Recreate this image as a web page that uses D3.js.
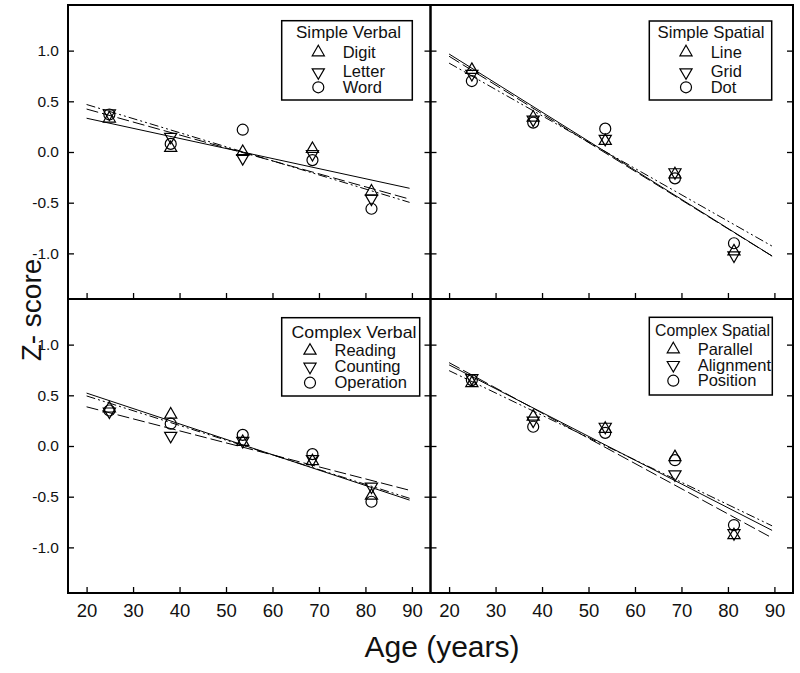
<!DOCTYPE html>
<html><head><meta charset="utf-8">
<script src="https://cdn.jsdelivr.net/npm/d3@7"></script>
<style>body{margin:0;background:#fff}</style>
</head><body>
<svg id="chart" width="800" height="673" xmlns="http://www.w3.org/2000/svg"></svg>
<script>
// ---------- data ----------
const ages = [24.9, 38.1, 53.6, 68.6, 81.3];
const xTicks = [20, 30, 40, 50, 60, 70, 80, 90];
const yTicks = [1.0, 0.5, 0.0, -0.5, -1.0];
const panelTitles = ["Simple Verbal", "Simple Spatial", "Complex Verbal", "Complex Spatial"];
const seriesNames = [
  ["Digit", "Letter", "Word"],
  ["Line", "Grid", "Dot"],
  ["Reading", "Counting", "Operation"],
  ["Parallel", "Alignment", "Position"]
];
const simpleVerbal = [
  [0.33, 0.04, 0.00, 0.03, -0.39],
  [0.38, 0.15, -0.06, -0.02, -0.46],
  [0.37, 0.08, 0.22, -0.08, -0.56]
];
const simpleSpatial = [
  [0.81, 0.34, 0.11, -0.22, -0.98],
  [0.77, 0.32, 0.13, -0.20, -1.02],
  [0.70, 0.29, 0.23, -0.26, -0.90]
];
const complexVerbal = [
  [0.37, 0.31, 0.04, -0.15, -0.49],
  [0.34, 0.10, 0.05, -0.13, -0.40],
  [0.35, 0.22, 0.11, -0.08, -0.55]
];
const complexSpatial = [
  [0.62, 0.29, 0.17, -0.11, -0.88],
  [0.67, 0.25, 0.19, -0.28, -0.86],
  [0.65, 0.19, 0.13, -0.14, -0.78]
];
const fitRange = [20, 89.5];

// ---------- layout ----------
const L = 68, R = 793, T = 5, B = 593;
const pw = (R - L) / 2, ph = (B - T) / 2;
const xDomain = [16, 94], yDomain = [-1.45, 1.45];
const FONT = "Liberation Sans, Arial, Helvetica, sans-serif";
const LEGFS = 16.5;

const panels = [
  { title: panelTitles[0], names: seriesNames[0], data: simpleVerbal, col: 0, row: 0,
    leg: { x: 213.7, y: 15.7, w: 130.6, h: 79.3, tx: 228, tw: 105, ty: 33.3, sx: 250.3, lx: 274.7,
           sy: [47.3, 67.3, 82.3], ly: [52.5, 71.9, 87.5] } },
  { title: panelTitles[1], names: seriesNames[1], data: simpleSpatial, col: 1, row: 0,
    leg: { x: 218.8, y: 16, w: 122.4, h: 79, tx: 227, tw: 107, ty: 33.3, sx: 255.5, lx: 280.2,
           sy: [47.3, 67.3, 82.3], ly: [52.5, 71.9, 87.5] } },
  { title: panelTitles[2], names: seriesNames[2], data: complexVerbal, col: 0, row: 1,
    leg: { x: 213.7, y: 18.7, w: 138, h: 78.3, tx: 223.5, tw: 125, ty: 39.3, sx: 242, lx: 266.5,
           sy: [51.7, 67.7, 83.7], ly: [57, 73, 88.6] } },
  { title: panelTitles[3], names: seriesNames[3], data: complexSpatial, col: 1, row: 1,
    leg: { x: 218.8, y: 18.3, w: 123, h: 77.7, tx: 224.5, tw: 115, ty: 37, sx: 242.8, lx: 267.2,
           sy: [50.3, 66, 81.7], ly: [56.3, 71.6, 87.3] } }
];

const symbolTypes = [
  d3.symbol().type(d3.symbolTriangle).size(64)(),
  d3.symbol().type(d3.symbolTriangle).size(64)(),
  d3.symbol().type(d3.symbolCircle).size(95)()
];
const symbolRot = [0, 180, 0];
const dashes = [null, "12,4", "9,3,2,3,2,3"];

function fit(xs, ys) {
  const mx = d3.mean(xs), my = d3.mean(ys);
  let sxy = 0, sxx = 0;
  xs.forEach((xv, i) => { sxy += (xv - mx) * (ys[i] - my); sxx += (xv - mx) ** 2; });
  const b = sxy / sxx;
  return { a: my - b * mx, b };
}

const svg = d3.select("#chart");
svg.append("rect").attr("width", 800).attr("height", 673).attr("fill", "#fff");

const fmt = d => d.toFixed(1);

panels.forEach(p => {
  const x0 = L + p.col * pw, y0 = T + p.row * ph;
  const g = svg.append("g").attr("transform", `translate(${x0},${y0})`);
  const x = d3.scaleLinear().domain(xDomain).range([0, pw]);
  const y = d3.scaleLinear().domain(yDomain).range([ph, 0]);

  const ax = g.append("g").call(
    d3.axisLeft(y).tickValues(yTicks).tickSize(-6).tickPadding(9)
      .tickFormat(p.col === 0 ? fmt : () => ""));
  const ar = g.append("g").attr("transform", `translate(${pw},0)`).call(
    d3.axisRight(y).tickValues(yTicks).tickSize(-6).tickFormat(() => ""));
  const ab = g.append("g").attr("transform", `translate(0,${ph})`).call(
    d3.axisBottom(x).tickValues(xTicks).tickSize(-6).tickPadding(11)
      .tickFormat(p.row === 1 ? d3.format("d") : () => ""));
  [ax, ar, ab].forEach(a => {
    a.select(".domain").remove();
    a.selectAll("line").attr("stroke", "#000").attr("stroke-width", 1.3);
    a.selectAll("text").attr("fill", "#111").attr("font-family", FONT);
  });
  ax.selectAll("text").attr("font-size", 15.5);
  ab.selectAll("text").attr("font-size", 18.5);

  p.data.forEach((vals, si) => {
    const f = fit(ages, vals);
    g.append("line")
      .attr("x1", x(fitRange[0])).attr("y1", y(f.a + f.b * fitRange[0]))
      .attr("x2", x(fitRange[1])).attr("y2", y(f.a + f.b * fitRange[1]))
      .attr("stroke", "#000").attr("stroke-width", 1)
      .attr("stroke-dasharray", dashes[si]);
  });

  p.data.forEach((vals, si) => {
    g.append("g").selectAll("path").data(vals).join("path")
      .attr("d", symbolTypes[si])
      .attr("transform", (v, i) => `translate(${x(ages[i])},${y(v)}) rotate(${symbolRot[si]})`)
      .attr("fill", "none").attr("stroke", "#000").attr("stroke-width", 1.2);
  });

  g.append("rect").attr("width", pw).attr("height", ph)
    .attr("fill", "none").attr("stroke", "#000").attr("stroke-width", 2);

  const lg = p.leg;
  const leg = g.append("g");
  leg.append("rect").attr("x", lg.x).attr("y", lg.y).attr("width", lg.w).attr("height", lg.h)
    .attr("fill", "#fff").attr("stroke", "#000").attr("stroke-width", 1.5);
  leg.append("text").attr("x", lg.tx).attr("y", lg.ty).text(p.title)
    .attr("font-family", FONT).attr("font-size", LEGFS).attr("fill", "#111")
    .attr("textLength", lg.tw).attr("lengthAdjust", "spacingAndGlyphs");
  p.names.forEach((n, si) => {
    leg.append("path").attr("d", symbolTypes[si])
      .attr("transform", `translate(${lg.sx},${lg.sy[si]}) rotate(${symbolRot[si]})`)
      .attr("fill", "none").attr("stroke", "#000").attr("stroke-width", 1.2);
    leg.append("text").attr("x", lg.lx).attr("y", lg.ly[si]).text(n)
      .attr("font-family", FONT).attr("font-size", LEGFS).attr("fill", "#111");
  });
});

svg.append("text").attr("x", 442).attr("y", 657).attr("text-anchor", "middle")
  .attr("font-family", FONT).attr("font-size", 30).attr("fill", "#111").text("Age (years)");
svg.append("text").attr("transform", "translate(41,310) rotate(-90)").attr("text-anchor", "middle")
  .attr("font-family", FONT).attr("font-size", 28).attr("fill", "#111").text("Z- score");
</script>
</body></html>
